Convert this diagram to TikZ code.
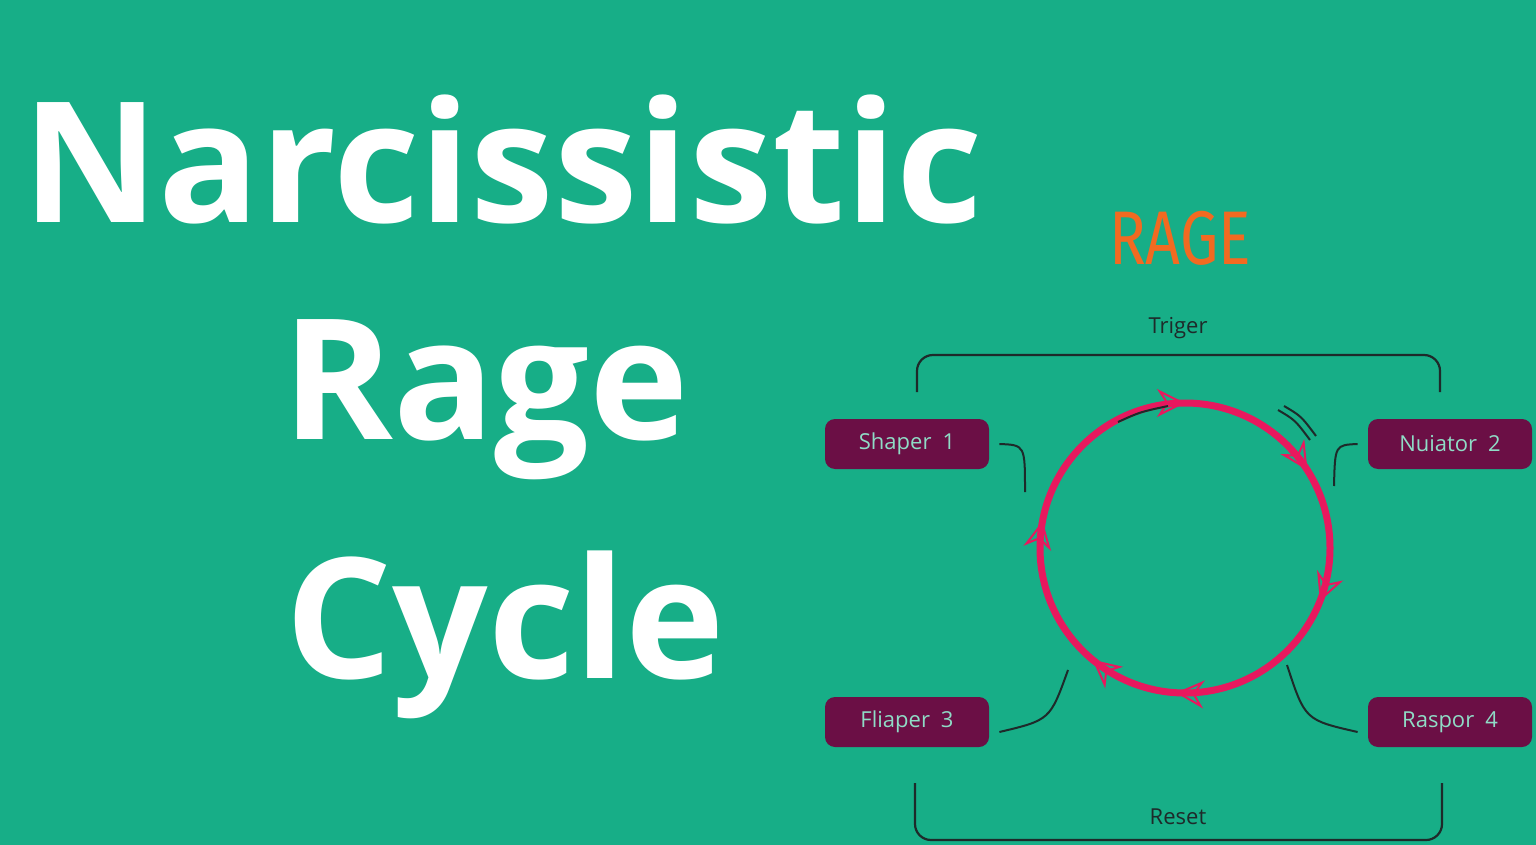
\documentclass[tikz,border=0pt]{standalone}
\usepackage{fontspec}
\setmainfont{Open Sans}
\newfontfamily\titlefont{Open Sans}
\newfontfamily\ragefont{Fira Sans}
\usetikzlibrary{decorations.markings,arrows.meta}
\definecolor{bg}{HTML}{17AE87}
\definecolor{pinkc}{HTML}{E8185E}
\definecolor{boxc}{HTML}{6B0F45}
\definecolor{boxt}{HTML}{8FDCC6}
\definecolor{ragec}{HTML}{F26A21}
\definecolor{linec}{HTML}{1E2A2A}
\begin{document}
\begin{tikzpicture}[x=0.5pt,y=-0.5pt,
  title/.style={text=white,font=\titlefont\bfseries\fontsize{84}{90}\selectfont,inner sep=0},
  stagebox/.style={fill=boxc,rounded corners=5pt,minimum width=82pt,minimum height=25pt,text=boxt,font=\fontsize{11}{13}\selectfont,inner sep=0},
  bracket/.style={draw=linec,line width=1.1pt,rounded corners=8pt},
  conn/.style={draw=linec,line width=1pt},
  lbl/.style={text=linec,font=\fontsize{11}{13}\selectfont}]
\fill[bg] (0,0) rectangle (1536,845);
\useasboundingbox (0,0) rectangle (1536,845);
\node[title,anchor=west] (t1) at (22,160) {Narcissistic};
\node[title,anchor=west] (t2) at (282,400) {Rage};
\node[title,anchor=west] (t3) at (285,635) {Cycle};
\node[text=ragec,font=\ragefont\fontsize{38}{40}\selectfont,xscale=0.8] (rage) at (1180,238) {RAGE};
\node[lbl] (trig) at (1178,328) {Triger};
\node[lbl] (reset) at (1178,817) {Reset};
\draw[bracket] (917,392) -- (917,355) -- (1440,355) -- (1440,392);
\draw[bracket] (915,783) -- (915,840) -- (1442,840) -- (1442,783);
\node[stagebox] (s1) at (907,444) {Shaper\enspace 1};
\node[stagebox] (s2) at (1450,444) {Nuiator\enspace 2};
\node[stagebox] (s3) at (907,722) {Fliaper\enspace 3};
\node[stagebox] (s4) at (1450,722) {Raspor\enspace 4};
\coordinate (c) at (1185,548);
\draw[pinkc,line width=3.5pt,postaction={decorate},
  decoration={markings,
   mark=at position 0.06 with {\arrow[pinkc,line width=1pt]{Stealth[length=14pt,width=14pt,open]}},
   mark=at position 0.26 with {\arrow[pinkc,line width=1pt]{Stealth[length=14pt,width=14pt,open]}},
   mark=at position 0.36 with {\arrow[pinkc,line width=1pt]{Stealth[length=14pt,width=14pt,open]}},
   mark=at position 0.53 with {\arrow[pinkc,line width=1pt]{Stealth[length=14pt,width=14pt,open]}},
   mark=at position 0.75 with {\arrow[pinkc,line width=1pt]{Stealth[length=14pt,width=14pt,open]}},
   mark=at position 0.91 with {\arrow[pinkc,line width=1pt]{Stealth[length=14pt,width=14pt,open]}}}]
  (c) circle[radius=145];
\coordinate (k1) at (1025,492);
\coordinate (k2) at (1334,486);
\coordinate (k3) at (1068,670);
\coordinate (k4) at (1287,665);
\draw[conn] (s1.east) ++(10,0) .. controls (1025,445) .. (k1);
\draw[conn] (s2.west) ++(-10,0) .. controls (1335,445) .. (k2);
\draw[conn] (s3.east) ++(10,10) .. controls (1050,720) .. (k3);
\draw[conn] (s4.west) ++(-10,10) .. controls (1305,720) .. (k4);
\draw[conn] (1118,422) .. controls (1140,412) .. (1168,406);
\draw[conn] (1278,410) .. controls (1295,420) .. (1310,440);
\draw[conn] (1284,406) .. controls (1301,416) .. (1316,436);
\end{tikzpicture}
\end{document}
